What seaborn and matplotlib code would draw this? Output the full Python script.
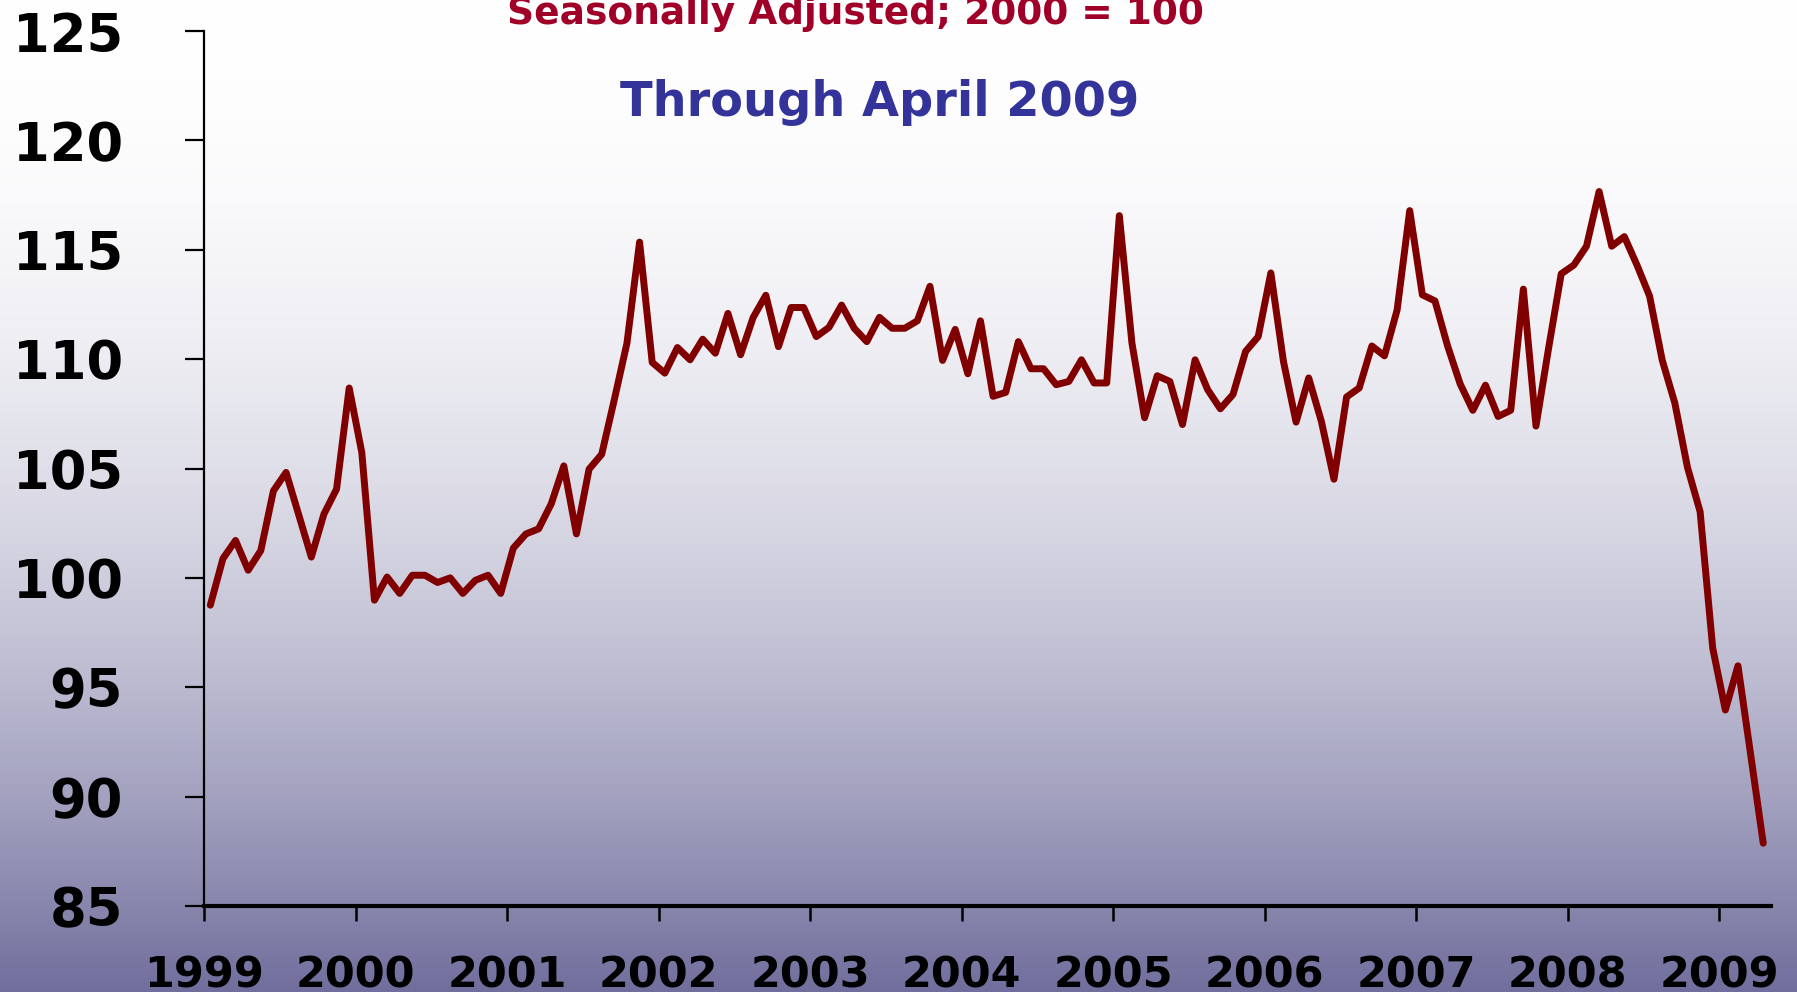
import numpy as np
import pandas as pd
import matplotlib
matplotlib.use("Agg")
import matplotlib.pyplot as plt
import seaborn as sns

# ---- data (monthly index, seasonally adjusted; 2000 = 100) ----
v1999 = [98.75, 100.88, 101.71, 100.35, 101.25, 103.98, 104.82, 102.89, 100.95, 102.92, 104.06, 108.68]
v2000 = [105.73, 98.98, 100.04, 99.29, 100.12, 100.12, 99.79, 100.0, 99.29, 99.89, 100.12, 99.29]
v2001 = [101.36, 102.01, 102.24, 103.38, 105.12, 102.01, 104.97, 105.65, 108.15, 110.73, 115.35, 109.85]
v2002 = [109.36, 110.53, 109.97, 110.91, 110.27, 112.09, 110.2, 111.91, 112.92, 110.57, 112.36, 112.36]
v2003 = [111.03, 111.45, 112.47, 111.41, 110.8, 111.91, 111.41, 111.41, 111.75, 113.33, 109.94, 111.36]
v2004 = [109.33, 111.75, 108.3, 108.48, 110.8, 109.56, 109.56, 108.83, 108.98, 109.97, 108.91, 108.91]
v2005 = [116.56, 110.73, 107.32, 109.24, 108.98, 107.01, 109.97, 108.6, 107.73, 108.38, 110.35, 111.03]
v2006 = [113.94, 109.89, 107.12, 109.14, 107.16, 104.51, 108.27, 108.68, 110.6, 110.15, 112.24, 116.79]
v2007 = [112.94, 112.66, 110.6, 108.86, 107.66, 108.81, 107.38, 107.66, 113.2, 106.94, 110.5, 113.9]
v2008 = [114.3, 115.16, 117.66, 115.16, 115.6, 114.3, 112.88, 109.95, 107.99, 105.05, 103.03, 96.79]
v2009 = [93.96, 95.98, 91.94, 87.87]

years = list(range(1999, 2010))
series = [v1999, v2000, v2001, v2002, v2003, v2004, v2005, v2006, v2007, v2008, v2009]
year_ticks = [str(y) for y in years]
y_ticks = [85, 90, 95, 100, 105, 110, 115, 120, 125]

title1 = "Seasonally Adjusted; 2000 = 100"
title2 = "Through April 2009"

rows = []
for yr, vals in zip(years, series):
    for m, v in enumerate(vals):
        rows.append({"t": yr + (m + 0.5) / 12.0, "index": v})
df = pd.DataFrame(rows)

# ---- styling ----
sns.set_style("ticks")
plt.rcParams["font.family"] = ["DejaVu Sans"]
plt.rcParams["font.weight"] = "bold"

W, H, DPI = 1797, 992, 100
fig = plt.figure(figsize=(W / DPI, H / DPI), dpi=DPI)

# background vertical gradient
bg = fig.add_axes([0, 0, 1, 1], zorder=-10)
t = np.linspace(0, 1, 512)[:, None]
g = t ** 2
top = np.array([255, 255, 255]) / 255.0
bot = np.array([112, 110, 156]) / 255.0
img = (1 - g)[..., None] * top + g[..., None] * bot
img = np.repeat(img, 2, axis=1)
bg.imshow(img, aspect="auto", extent=[0, 1, 0, 1], interpolation="bilinear")
bg.set_axis_off()

ax = fig.add_axes([204 / W, (H - 906) / H, (1770.7 - 204) / W, (906 - 31) / H])
ax.set_facecolor("none")

sns.lineplot(data=df, x="t", y="index", ax=ax, color="#800000", linewidth=5.0,
             solid_joinstyle="round", solid_capstyle="round")

ax.set_xlim(1999, 2009.341)
ax.set_ylim(85, 125)
ax.set_xticks(years)
ax.set_xticklabels(year_ticks)
ax.set_yticks(y_ticks)
ax.set_yticklabels([str(v) for v in y_ticks])
ax.set_xlabel("")
ax.set_ylabel("")

for s in ["top", "right"]:
    ax.spines[s].set_visible(False)
ax.spines["left"].set_linewidth(1.6)
ax.spines["bottom"].set_linewidth(3.0)
ax.spines["left"].set_color("black")
ax.spines["bottom"].set_color("black")

ax.tick_params(axis="y", direction="out", length=13.5, width=1.6, color="black",
               pad=45, labelsize=38, labelcolor="black")
ax.tick_params(axis="x", direction="out", length=11, width=1.8, color="black",
               pad=24, labelsize=31, labelcolor="black")
for lab in ax.get_xticklabels() + ax.get_yticklabels():
    lab.set_fontweight("bold")

fig.text(855.5 / W, 1 - 24 / H, title1, ha="center", va="baseline",
         fontsize=27, fontweight="bold", color="#A00028")
fig.text(880 / W, 1 - 116 / H, title2, ha="center", va="baseline",
         fontsize=34.5, fontweight="bold", color="#333399")

fig.savefig("out.png", dpi=DPI)
